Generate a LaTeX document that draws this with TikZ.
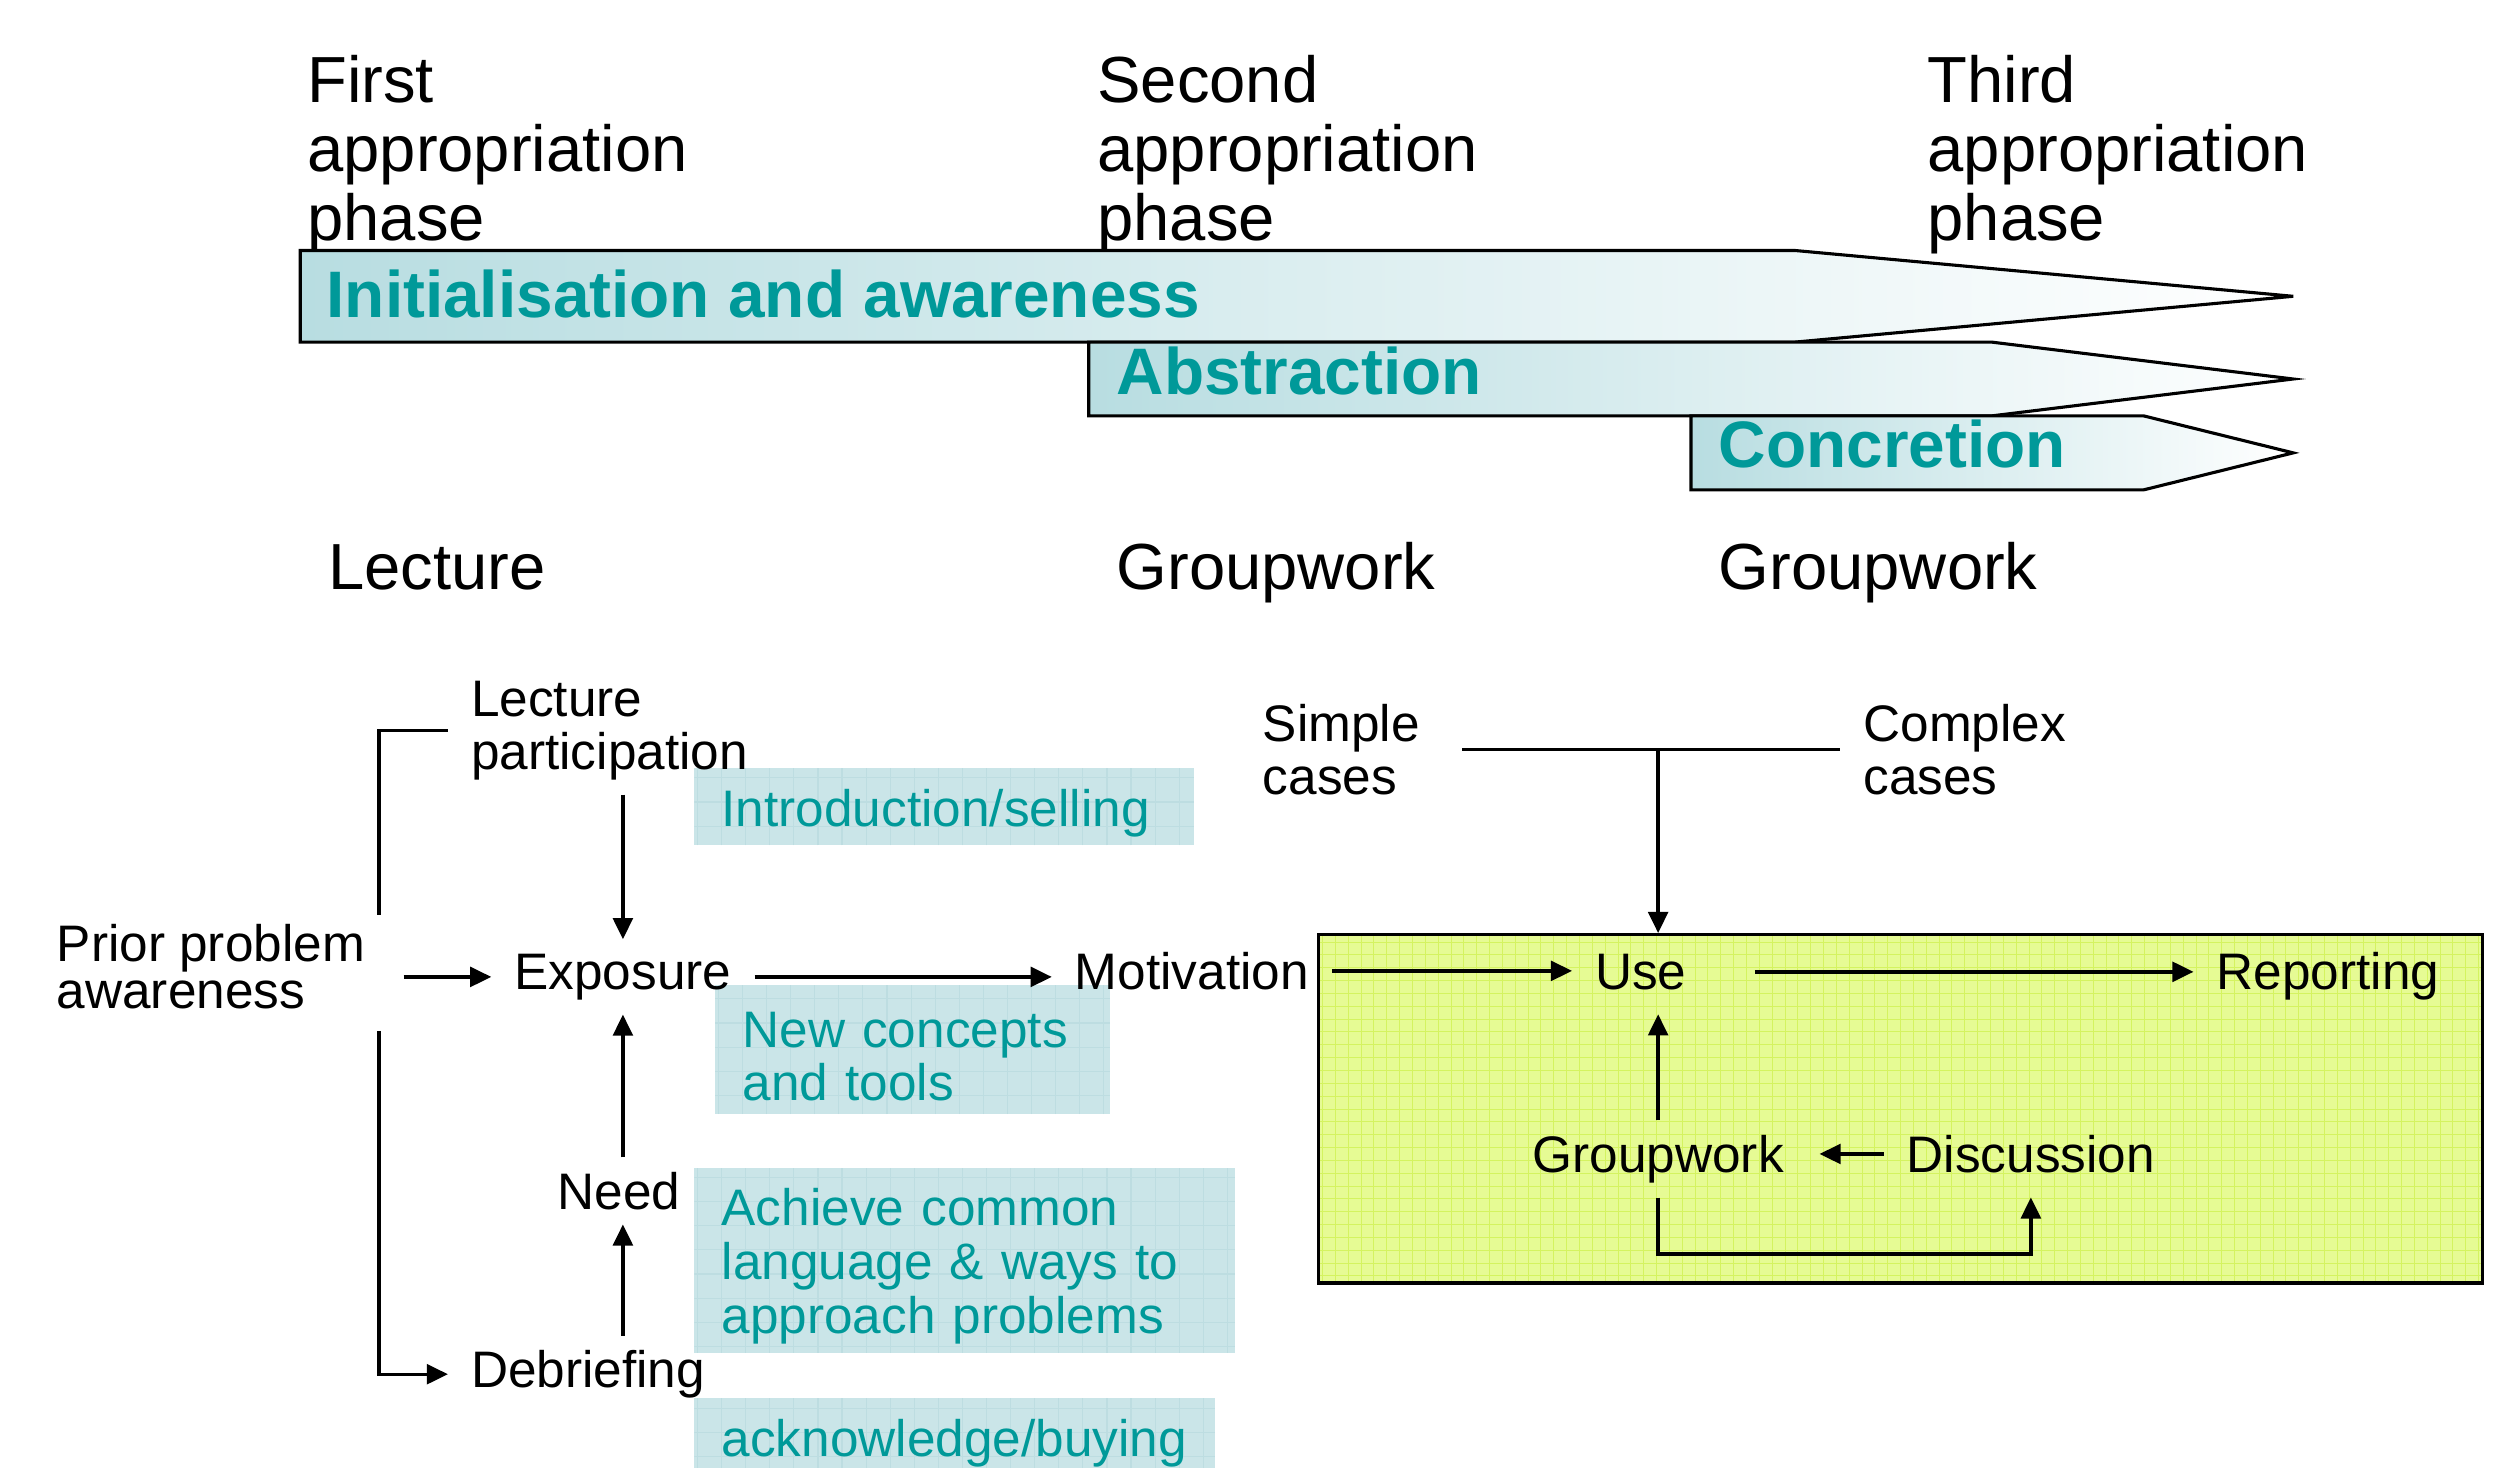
\documentclass[tikz,border=0pt]{standalone}
\usepackage{fontspec}
\setmainfont{Liberation Sans}
\usetikzlibrary{arrows.meta, calc}

\definecolor{phaseteal}{RGB}{0,153,153}
\definecolor{phasefill}{RGB}{184,221,225}
\definecolor{notefill}{RGB}{202,229,232}
\definecolor{notegrid}{RGB}{189,221,225}
\definecolor{usefill}{RGB}{230,251,148}
\definecolor{usegrid}{RGB}{212,243,96}

\tikzset{
  bigtxt/.style={font=\fontsize{23.1}{24.3}\selectfont, align=left, inner sep=0pt, anchor=base west},
  phasebar/.style={draw=black, line width=1.1pt, left color=phasefill, right color=white},
  phaselbl/.style={font=\fontsize{23.3}{24}\selectfont\bfseries, text=phaseteal, inner sep=0pt, anchor=base west},
  lbl/.style={font=\fontsize{18.2}{18.8}\selectfont, align=left, inner xsep=8pt, inner ysep=5pt, anchor=base west, xshift=-8pt},
  note/.style={fill=notefill, text=phaseteal, font=\fontsize{18.2}{19.1}\selectfont, align=left,
    inner xsep=0.34cm, inner ysep=0pt, text height=17.5pt, anchor=north west,
    path picture={\draw[notegrid, line width=0.4pt] (path picture bounding box.south west) grid[step=0.3cm] (path picture bounding box.north east);}},
  usebox/.style={draw=black, line width=1.2pt, fill=usefill, inner sep=0pt, anchor=north west,
    path picture={\draw[usegrid, line width=0.3pt] (path picture bounding box.south west) grid[step=0.16cm] (path picture bounding box.north east);}},
  link/.style={line width=1.2pt},
  arr/.style={link, -{Triangle[length=7.5pt,width=7pt]}}
}

\begin{document}
\begin{tikzpicture}[x=0.02cm, y=-0.02cm]
    \useasboundingbox (0,0) rectangle (1568,914);

    % Phase headings
    \node[bigtxt] (ph1) at (191,149.5) {First\\appropriation\\phase};
    \node[bigtxt] (ph2) at (683,149.5) {Second\\appropriation\\phase};
    \node[bigtxt] (ph3) at (1200,149.5) {Third\\appropriation\\phase};

    % Phase arrows
    \draw[phasebar] (187,156) -- (1118,156) -- (1428,184.5) -- (1118,213) -- (187,213) -- cycle;
    \draw[phasebar] (678,213) -- (1240,213) -- (1428,236) -- (1240,259) -- (678,259) -- cycle;
    \draw[phasebar] (1053,259) -- (1335,259) -- (1428,282) -- (1335,305) -- (1053,305) -- cycle;
    \node[phaselbl] (ia) at (203,198) {Initialisation and awareness};
    \node[phaselbl] (ab) at (695,245.5) {Abstraction};
    \node[phaselbl] (co) at (1070,291) {Concretion};

    % Settings
    \node[bigtxt] (lec) at (204,367) {Lecture};
    \node[bigtxt] (grp1) at (695,367) {Groupwork};
    \node[bigtxt] (grp2) at (1070,367) {Groupwork};

    % Notes and the groupwork box
    \node[note, text width=5.55cm, minimum height=0.96cm] (n1) at (432,478) {Introduction/selling};
    \node[note, text width=4.24cm, minimum height=1.61cm] (n2) at (445,613) {New concepts\\and tools};
    \node[note, text width=6.06cm, minimum height=2.3cm] (n3) at (432,727) {Achieve common\\language \& ways to\\approach problems};
    \node[note, text width=5.81cm, minimum height=0.98cm] (n4) at (432,870) {acknowledge/buying};
    \node[usebox, minimum width=14.5cm, minimum height=4.34cm] (ub) at (820,581) {};

    % Lecture flow
    \node[lbl] (lp) at (293,479) {Lecture\\participation};
    \node[lbl, font=\fontsize{18.2}{16.5}\selectfont] (pa) at (35,628) {Prior problem\\awareness};
    \node[lbl] (ex) at (320,616) {Exposure};
    \node[lbl] (mo) at (669,616) {Motivation};
    \node[lbl] (nd) at (347,753) {Need};
    \node[lbl] (db) at (293,864) {Debriefing};

    % Groupwork flow
    \node[lbl] (sc) at (786,494.5) {Simple\\cases};
    \node[lbl] (cc) at (1160,494.5) {Complex\\cases};
    \node[lbl] (us) at (993,616) {Use};
    \node[lbl] (rp) at (1380,616) {Reporting};
    \node[lbl] (gw) at (954,730) {Groupwork};
    \node[lbl] (ds) at (1187,730) {Discussion};

    % Connectors
    \coordinate (brtop) at (236,570);
    \coordinate (brbot) at (236,642);
    \draw[link] (lp.west) -| (brtop);
    \draw[arr] (brbot) |- (db.west);
    \draw[arr, shorten <=5.5pt] (ex.west -| pa.east) -- (ex.west);
    \draw[arr] (ex.east) -- (ex.east -| mo.west);
    \draw[arr] (lp.south -| ex.north) -- (ex.north);
    \draw[arr] (nd.north -| ex.south) -- (ex.south);
    \draw[arr] (db.north -| ex.south) -- (nd.south -| ex.south);

    \draw[link, shorten <=6.8pt] (sc.east) -- (sc.east -| cc.west);
    \coordinate (jn) at (sc.east -| gw.north);
    \draw[arr] (jn) -- (jn |- ub.north);
    \draw[arr] (mo.east) -- (mo.east -| us.west);
    \draw[arr, shorten <=16pt] (us.east) -- (us.east -| rp.west);
    \draw[arr, shorten >=3.5pt] (gw.north) -- (gw.north |- us.south);
    \draw[arr, shorten >=4.5pt] (ds.west) -- (ds.west -| gw.east);
    \draw[arr, shorten >=3.5pt] (gw.south) -- ++(0,35) -| (ds.south);
\end{tikzpicture}
\end{document}
